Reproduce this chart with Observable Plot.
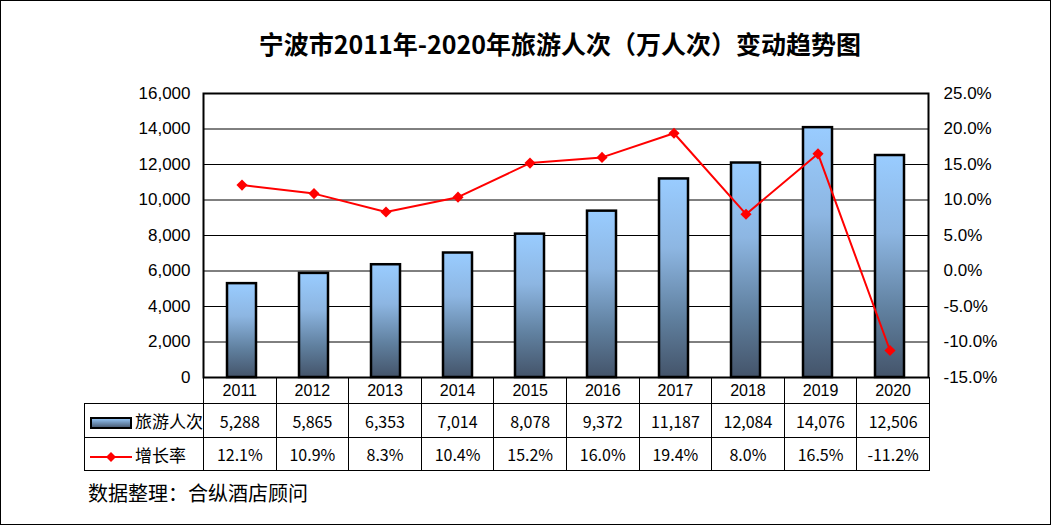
<!DOCTYPE html>
<html>
<head>
<meta charset="utf-8">
<script src="https://cdn.jsdelivr.net/npm/d3@7"></script>
<script src="https://cdn.jsdelivr.net/npm/@observablehq/plot@0.6"></script>
<style>
  html, body { margin: 0; padding: 0; background: #fff; }
  #page { position: relative; width: 1051px; height: 525px; overflow: hidden; background: #fff; }
  #border { position: absolute; left: 0; top: 0; width: 1051px; height: 525px; box-sizing: border-box; border: 1px solid #000; pointer-events: none; }
  #title { position: absolute; left: 0; width: 1120px; top: 25px; text-align: center; font-family: "Noto Sans CJK SC", sans-serif; font-weight: bold; font-size: 25px; color: #000; line-height: 36px; }
  #chart { position: absolute; left: 0; top: 0; }
  #chart svg { overflow: visible; }
  #tbl { position: absolute; left: 84px; top: 377px; border-collapse: collapse; table-layout: fixed; width: 845px; }
  #tbl td { border: 1px solid #000; padding: 0; text-align: center; font-family: "Noto Sans CJK SC", sans-serif; font-size: 16px; color: #000; white-space: nowrap; overflow: hidden; }
  #tbl tr.yr td { height: 25px; font-family: "Liberation Sans", Arial, sans-serif; font-size: 16px; }
  #tbl tr.r1 td { height: 33px; }
  #tbl tr.r2 td { height: 32px; }
  #tbl td.blank { border-top: none; border-left: none; }
  #tbl td.lg { text-align: left; padding-left: 5px; font-size: 17px; }
  #tbl td.lg svg { vertical-align: middle; margin-right: 3px; }
  #caption { position: absolute; left: 88px; top: 478px; font-family: "Noto Sans CJK SC", sans-serif; font-size: 20px; color: #000; }
</style>
</head>
<body>
<div id="page">
  <div id="chart"></div>
  <div id="title"></div>
  <table id="tbl"></table>
  <div id="caption"></div>
  <div id="border"></div>
</div>
<script>
const titleText = "宁波市2011年-2020年旅游人次（万人次）变动趋势图";
const captionText = "数据整理：合纵酒店顾问";
const years = ["2011","2012","2013","2014","2015","2016","2017","2018","2019","2020"];
const visitors = [5288, 5865, 6353, 7014, 8078, 9372, 11187, 12084, 14076, 12506];
const growth = [12.1, 10.9, 8.3, 10.4, 15.2, 16.0, 19.4, 8.0, 16.5, -11.2];
const leftTicks = [0, 2000, 4000, 6000, 8000, 10000, 12000, 14000, 16000];
const rightTicks = [-15, -10, -5, 0, 5, 10, 15, 20, 25];
const seriesNames = ["旅游人次", "增长率"];

const leftMax = 16000;
const rMin = -15, rMax = 25;
const toLeft = g => (g - rMin) / (rMax - rMin) * leftMax;
const fromLeft = v => v / leftMax * (rMax - rMin) + rMin;

const data = years.map((y, i) => ({year: y, visitors: visitors[i], growth: growth[i], gy: toLeft(growth[i])}));

document.getElementById("title").textContent = titleText;
document.getElementById("caption").textContent = captionText;

function gradientDefs() {
  const ns = "http://www.w3.org/2000/svg";
  const defs = document.createElementNS(ns, "defs");
  const lg = document.createElementNS(ns, "linearGradient");
  lg.setAttribute("id", "barGrad");
  lg.setAttribute("x1", "0"); lg.setAttribute("y1", "0");
  lg.setAttribute("x2", "0"); lg.setAttribute("y2", "1");
  [["0%", "#99CCFF"], ["35%", "#8DB6E2"], ["70%", "#60809F"], ["100%", "#44546A"]].forEach(([o, c]) => {
    const s = document.createElementNS(ns, "stop");
    s.setAttribute("offset", o); s.setAttribute("stop-color", c);
    lg.appendChild(s);
  });
  defs.appendChild(lg);
  return defs;
}

const chart = Plot.plot({
  width: 1051,
  height: 400,
  marginLeft: 203,
  marginRight: 123,
  marginTop: 93,
  marginBottom: 23,
  style: {fontFamily: "'Liberation Sans', Arial, sans-serif", fontSize: "17px", color: "#000", background: "transparent", overflow: "visible"},
  x: {domain: years, paddingInner: 0.6, paddingOuter: 0.3, axis: null},
  y: {domain: [0, leftMax], axis: null},
  marks: [
    gradientDefs,
    Plot.gridY(leftTicks, {stroke: "#000", strokeOpacity: 1, strokeWidth: 1}),
    Plot.barY(data, {x: "year", y: "visitors", fill: "url(#barGrad)", stroke: "#000", strokeWidth: 2.5}),
    Plot.line(data, {x: "year", y: "gy", stroke: "#FF0000", strokeWidth: 2}),
    Plot.dot(data, {x: "year", y: "gy", symbol: "diamond2", r: 5, fill: "#FF0000", stroke: "none"}),
    Plot.frame({stroke: "#000", strokeWidth: 2}),
    Plot.axisY(leftTicks, {anchor: "left", tickSize: 0, tickPadding: 13, tickFormat: d3.format(","), fontSize: 17, label: null}),
    Plot.axisY(rightTicks.map(toLeft), {anchor: "right", tickSize: 0, tickPadding: 15, tickFormat: d => fromLeft(d).toFixed(1) + "%", fontSize: 17, label: null})
  ]
});
document.getElementById("chart").appendChild(chart);

// data table (legend + values)
const tbl = document.getElementById("tbl");
const cg = document.createElement("colgroup");
cg.innerHTML = '<col style="width:119px">' + years.map(() => '<col style="width:72.6px">').join("");
tbl.appendChild(cg);

const swatchBar = '<svg width="42" height="12"><defs><linearGradient id="lgBar" x1="0" y1="0" x2="0" y2="1"><stop offset="0%" stop-color="#99CCFF"/><stop offset="100%" stop-color="#44546A"/></linearGradient></defs><rect x="1" y="1" width="40" height="10" fill="url(#lgBar)" stroke="#000" stroke-width="2"/></svg>';
const swatchLine = '<svg width="42" height="12"><line x1="0" y1="6" x2="42" y2="6" stroke="#FF0000" stroke-width="2"/><path d="M21,1 L26,6 L21,11 L16,6 Z" fill="#FF0000"/></svg>';

const trY = document.createElement("tr"); trY.className = "yr";
trY.innerHTML = '<td class="blank"></td>' + years.map(y => `<td>${y}</td>`).join("");
tbl.appendChild(trY);
const tr1 = document.createElement("tr"); tr1.className = "r1";
tr1.innerHTML = `<td class="lg">${swatchBar}${seriesNames[0]}</td>` + visitors.map(v => `<td>${d3.format(",")(v)}</td>`).join("");
tbl.appendChild(tr1);
const tr2 = document.createElement("tr"); tr2.className = "r2";
tr2.innerHTML = `<td class="lg">${swatchLine}${seriesNames[1]}</td>` + growth.map(g => `<td>${g.toFixed(1)}%</td>`).join("");
tbl.appendChild(tr2);
</script>
</body>
</html>
